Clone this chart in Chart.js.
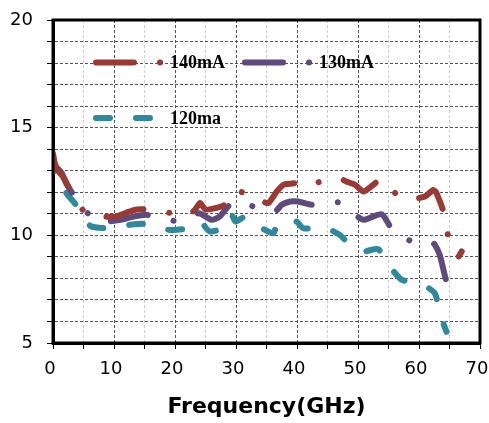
<!DOCTYPE html>
<html>
<head>
<meta charset="utf-8">
<script src="https://cdn.jsdelivr.net/npm/chart.js@4"></script>
<style>
    html, body { margin: 0; padding: 0; background: #fff; }
    #wrap { width: 489px; height: 423px; }
</style>
</head>
<body>
<div id="wrap"><canvas id="gainChart" width="489" height="423"></canvas></div>
<script>
/* ---------- DATA ---------- */

const seriesNames = ["140mA", "130mA", "120ma"];

const freq140 = [0, 0.4, 0.9, 1.7, 2.5, 4.2, 5, 6.1, 8, 10.2, 12, 13.7, 15.4, 17.5, 20.3, 22, 23.3, 24.1, 25, 26.4, 28, 29.3, 29.9, 31, 32.3, 33.1, 34.2, 35.3, 36.7, 37.8, 38.9, 40.8, 41.85, 43.2, 44.6, 45.7, 46.8, 48.1, 49.5, 50.9, 52.3, 53.6, 54.7, 55.8, 57.4, 59.2, 61.0, 62.3, 62.8, 64.1, 64.8, 65.6, 66.4, 67.0];
const gain140 = [13.8, 13.2, 12.97, 12.7, 12.27, 11.42, 11.15, 10.95, 10.87, 10.87, 11.05, 11.2, 11.2, 11.1, 11.0, 10.9, 11.2, 11.5, 11.2, 11.25, 11.4, 11.96, 12.1, 12.0, 11.9, 11.84, 11.6, 11.5, 12.04, 12.35, 12.4, 12.43, 12.28, 12.43, 12.58, 12.6, 12.66, 12.5, 12.35, 12.04, 12.3, 12.58, 12.43, 12.04, 11.68, 11.7, 11.8, 12.1, 12.0, 11.03, 9.94, 9.33, 9.0, 9.25];

const freq130 = [0, 0.5, 1.4, 2.2, 4.5, 7.3, 11, 13.2, 15.4, 17.5, 21.1, 23.9, 26.0, 27.3, 29.0, 29.7, 31.7, 34.5, 36.4, 37.5, 38.9, 40.2, 42.4, 44.6, 46.8, 48.1, 49.5, 50.9, 53.9, 55.9, 58.5, 60.2, 61.8, 62.6, 63.4, 64.3, 65.4];
const gain130 = [13.5, 13.2, 12.9, 12.4, 11.4, 10.64, 10.72, 10.87, 10.95, 10.8, 10.64, 11.03, 10.72, 10.87, 11.42, 11.3, 11.42, 11.19, 11.1, 11.42, 11.57, 11.57, 11.42, 11.53, 11.53, 11.19, 10.95, 10.72, 10.98, 10.13, 9.76, 9.72, 9.76, 9.56, 9.09, 8.06, 7.03];

const freq120 = [0, 0.1, 0.3, 1, 2.2, 4.4, 6.1, 9.1, 12.6, 15.4, 18.9, 21.6, 24.1, 25.7, 28.5, 29.3, 29.9, 31.5, 32.3, 33.7, 36.1, 36.7, 37.5, 39.9, 41.0, 43.2, 44.9, 47.0, 48.7, 50.9, 53.3, 55.2, 57.2, 60.2, 62.6, 63.4, 64.5];
const gain120 = [13.6, 13.0, 12.6, 12.5, 11.96, 11.19, 10.44, 10.33, 10.49, 10.53, 10.26, 10.3, 10.64, 10.18, 10.41, 10.95, 10.64, 10.87, 10.64, 10.41, 10.1, 10.49, 10.64, 10.64, 10.33, 10.33, 10.33, 10.02, 9.56, 9.25, 9.36, 8.55, 7.93, 7.78, 7.31, 6.38, 5.52];

const xTicks = [0, 10, 20, 30, 40, 50, 60, 70];
const yTicks = [5, 10, 15, 20];

/* ---------- HELPERS ---------- */

function toPoints(xs, ys) {
    return xs.map((x, i) => ({ x: x, y: ys[i] }));
}

const colors = ["#9a3a35", "#5f4a7d", "#2f899d"];
const dashes = [
    [38, 26, 0.1, 26],
    [38, 26, 0.1, 26],
    [14, 26]
];

// drop the auto label padding so the plot box is exactly what layout.padding says
function noPad(s) {
    s.paddingLeft = 0;
    s.paddingRight = 0;
    s.paddingTop = 0;
    s.paddingBottom = 0;
}

/* ---------- PLUGINS ---------- */

// legend drawn inside the plot, two rows
const innerLegend = {
    id: "innerLegend",
    afterDatasetsDraw(chart) {
        const { ctx, chartArea } = chart;
        const rows = [
            { x: chartArea.left + 43, y: chartArea.top + 42.5, len: 66 },
            { x: chartArea.left + 192, y: chartArea.top + 42.5, len: 66 },
            { x: chartArea.left + 43, y: chartArea.top + 98, len: 56 }
        ];
        const textX = [chartArea.left + 117, chartArea.left + 266, chartArea.left + 117];
        rows.forEach((r, i) => {
            ctx.save();
            ctx.strokeStyle = colors[i];
            ctx.lineWidth = 6;
            ctx.lineCap = "round";
            ctx.setLineDash(dashes[i]);
            ctx.beginPath();
            ctx.moveTo(r.x, r.y);
            ctx.lineTo(r.x + r.len, r.y);
            ctx.stroke();
            ctx.setLineDash([]);
            ctx.fillStyle = "#000";
            ctx.font = "bold 18px 'Liberation Serif'";
            ctx.textBaseline = "middle";
            ctx.textAlign = "left";
            ctx.fillText(seriesNames[i], textX[i], r.y + 1);
            ctx.restore();
        });
    }
};

// thick black frame around plot area
const plotFrame = {
    id: "plotFrame",
    afterDraw(chart) {
        const { ctx, chartArea } = chart;
        ctx.save();
        ctx.strokeStyle = "#000";
        ctx.lineWidth = 3;
        ctx.strokeRect(chartArea.left, chartArea.top, chartArea.right - chartArea.left, chartArea.bottom - chartArea.top);
        ctx.restore();
    }
};

/* ---------- CHART ---------- */

const allData = [toPoints(freq140, gain140), toPoints(freq130, gain130), toPoints(freq120, gain120)];

new Chart(document.getElementById("gainChart"), {
    type: "scatter",
    data: {
        datasets: seriesNames.map((name, i) => ({
            label: name,
            data: allData[i],
            showLine: true,
            borderColor: colors[i],
            backgroundColor: colors[i],
            borderWidth: 6,
            borderDash: dashes[i],
            borderCapStyle: "round",
            borderJoinStyle: "round",
            pointRadius: 0,
            tension: 0.2
        }))
    },
    options: {
        responsive: false,
        animation: false,
        layout: { padding: { left: 0, right: 9, top: 20, bottom: 0 } },
        plugins: {
            legend: { display: false },
            tooltip: { enabled: false }
        },
        scales: {
            x: {
                type: "linear",
                min: 0,
                max: 70,
                afterFit: s => { s.height = 80; noPad(s); },
                ticks: {
                    stepSize: 5,
                    autoSkip: false,
                    maxRotation: 0,
                    padding: 10,
                    labelOffset: -3,
                    color: "#000",
                    font: { family: "'DejaVu Sans'", size: 18 },
                    callback: v => xTicks.includes(v) ? String(v) : ""
                },
                grid: {
                    color: c => (c.tick && c.tick.value % 10 === 0) ? "#555" : "#cfcfcf",
                    lineWidth: 1,
                    tickLength: 6,
                    tickColor: "#000",
                    tickWidth: 1
                },
                border: { display: true, color: "#000", width: 3, dash: [3, 2] },
                title: {
                    display: true,
                    text: "Frequency(GHz)",
                    color: "#000",
                    font: { family: "'DejaVu Sans'", size: 22, weight: "bold" },
                    padding: { top: 0, bottom: 3 }
                }
            },
            y: {
                min: 5,
                max: 20,
                afterFit: s => { s.width = 53; noPad(s); },
                ticks: {
                    stepSize: 1,
                    autoSkip: false,
                    padding: 14,
                    color: "#000",
                    font: { family: "'DejaVu Sans'", size: 18 },
                    callback: v => yTicks.includes(v) ? String(v) : ""
                },
                grid: {
                    color: "#555",
                    lineWidth: 1,
                    tickLength: 6,
                    tickColor: "#000",
                    tickWidth: 1
                },
                border: { display: true, color: "#000", width: 3, dash: [3, 2] }
            }
        }
    },
    plugins: [innerLegend, plotFrame]
});
</script>
</body>
</html>
